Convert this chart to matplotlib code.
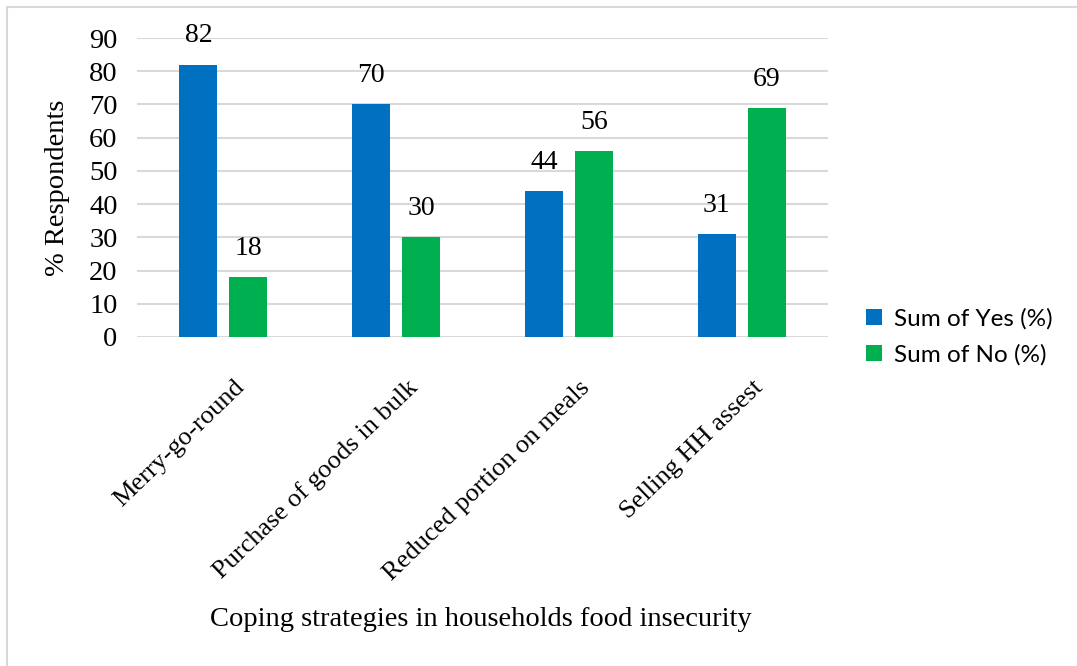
import numpy as np
import matplotlib
matplotlib.use("Agg")
import matplotlib.pyplot as plt
from matplotlib.patches import Rectangle
from matplotlib.transforms import ScaledTranslation

# coping strategy survey results (% of respondents)
strategies = ["Merry-go-round", "Purchase of goods in bulk",
              "Reduced portion on meals", "Selling HH assest"]
yes_pct = [82, 70, 44, 31]
no_pct = [18, 30, 56, 69]
series_names = ["Sum of Yes (%)", "Sum of No (%)"]
y_ticks = [0, 10, 20, 30, 40, 50, 60, 70, 80, 90]

BLUE = "#0070C0"
GREEN = "#00B050"
GRID = "#D9D9D9"
SERIF = "Liberation Serif"
FS = 20.5

fig = plt.figure(figsize=(10.77, 6.66), dpi=100)
ax = fig.add_axes([137 / 1077, 1 - 337 / 666, (828 - 137) / 1077, (337 - 38) / 666])

x = np.arange(len(strategies))
width = 0.22
offset = 0.145
b1 = ax.bar(x - offset, yes_pct, width, color=BLUE, label=series_names[0], zorder=3)
b2 = ax.bar(x + offset, no_pct, width, color=GREEN, label=series_names[1], zorder=3)

for bars, vals in ((b1, yes_pct), (b2, no_pct)):
    for rect, v in zip(bars, vals):
        ax.annotate(f"{v}", (rect.get_x() + rect.get_width() / 2, v),
                    xytext=(0, 16), textcoords="offset points",
                    ha="center", va="baseline", fontsize=20, family=SERIF)

ax.set_xlim(-0.5, len(strategies) - 0.5)
ax.set_ylim(0, 90)
ax.set_yticks(y_ticks)
ax.yaxis.grid(True, color=GRID, linewidth=1.5, zorder=0)
ax.set_axisbelow(True)
for s in ax.spines.values():
    s.set_visible(False)
ax.tick_params(axis="both", length=0)
ax.tick_params(axis="y", pad=14)
for lab in ax.get_yticklabels():
    lab.set_family(SERIF)
    lab.set_fontsize(FS)

# slanted category labels, nudged right so their ends sit past the tick
ax.set_xticks(x)
ax.set_xticklabels(strategies, rotation=44, ha="right", va="center",
                   rotation_mode="anchor", family=SERIF, fontsize=19)
ax.tick_params(axis="x", pad=34)
shift = ScaledTranslation(0.18, 0, fig.dpi_scale_trans)
for lab in ax.get_xticklabels():
    lab.set_transform(lab.get_transform() + shift)

ax.set_ylabel("% Respondents", family=SERIF, fontsize=FS)
ax.yaxis.set_label_coords(-0.097, 0.5)
fig.text(481 / 1077, 1 - 620 / 666, "Coping strategies in households food insecurity",
         ha="center", va="center", family=SERIF, fontsize=FS)

ax.legend(loc="center left", bbox_to_anchor=(866 / 691 - 137 / 691, 0.0), frameon=False,
          prop={"family": "Lato", "size": 17.5}, borderpad=0, borderaxespad=0,
          handlelength=0.66, handleheight=0.66, handletextpad=0.5, labelspacing=0.6)

# light frame around the chart
fig.patches.append(Rectangle((7 / 1077, -0.1), 1.2, 1.1 - 7 / 666,
                             transform=fig.transFigure, fill=False,
                             edgecolor=GRID, linewidth=1.5))

fig.savefig("out.png", dpi=100, facecolor="white")
